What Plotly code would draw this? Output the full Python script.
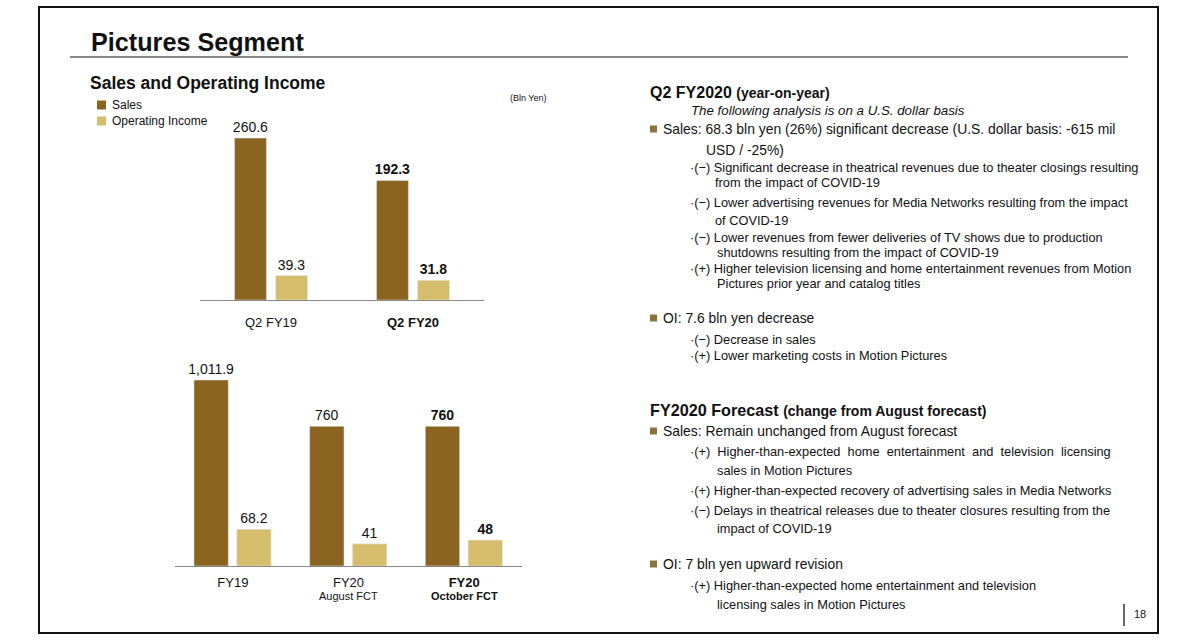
import plotly.graph_objects as go

# ---------------- data ----------------
q_categories = ["Q2 FY19", "Q2 FY20"]
q_ticktext = ["Q2 FY19", "<b>Q2 FY20</b>"]
q_sales = [260.6, 192.3]
q_oi = [39.3, 31.8]
q_bold = [False, True]

fy_categories = ["FY19", "FY20 August FCT", "FY20 October FCT"]
fy_ticktext = ["FY19", "FY20", "<b>FY20</b>"]
fy_sublabels = ["", "August FCT", "<b>October FCT</b>"]
fy_sales = [1011.9, 760, 760]
fy_oi = [68.2, 41, 48]
fy_bold = [False, False, True]

legend_names = ["Sales", "Operating Income"]

SALES_COLOR = "#8B6520"
OI_COLOR = "#D5BD6C"
FONT = "Arial, 'Liberation Sans', sans-serif"

W, H = 1200, 640


def px(x):
    return x / W


def py(y):
    return 1 - y / H


def lbl(vals, bold):
    out = []
    for v, b in zip(vals, bold):
        s = f"{v:,}"
        out.append(f"<b>{s}</b>" if b else s)
    return out


fig = go.Figure()

bar_common = dict(textposition="outside", cliponaxis=False, constraintext="none",
                  textfont=dict(family=FONT, size=14, color="#111"), hoverinfo="skip",
                  showlegend=False)

# top chart
fig.add_trace(go.Bar(x=q_categories, y=q_sales, name=legend_names[0], marker_color=SALES_COLOR,
                     offset=-0.257, width=0.225, text=lbl(q_sales, q_bold),
                     xaxis="x", yaxis="y", **bar_common))
fig.add_trace(go.Bar(x=q_categories, y=q_oi, name=legend_names[1], marker_color=OI_COLOR,
                     offset=0.032, width=0.225, text=lbl(q_oi, q_bold),
                     xaxis="x", yaxis="y", **bar_common))

# bottom chart (OI on its own scale)
fig.add_trace(go.Bar(x=fy_categories, y=fy_sales, name=legend_names[0], marker_color=SALES_COLOR,
                     offset=-0.336, width=0.297, text=lbl(fy_sales, fy_bold),
                     xaxis="x2", yaxis="y2", **bar_common))
fig.add_trace(go.Bar(x=fy_categories, y=fy_oi, name=legend_names[1], marker_color=OI_COLOR,
                     offset=0.034, width=0.297, text=lbl(fy_oi, fy_bold),
                     xaxis="x2", yaxis="y3", **bar_common))

axis_common = dict(showgrid=False, zeroline=False)

fig.update_layout(
    width=W, height=H,
    margin=dict(l=0, r=0, t=0, b=0),
    paper_bgcolor="white", plot_bgcolor="rgba(0,0,0,0)",
    font=dict(family=FONT, color="#111"),
    barmode="overlay",
    showlegend=False,
    xaxis=dict(domain=[px(200), px(484)], range=[-0.5, 1.5], type="category",
               tickmode="array", tickvals=q_categories, ticktext=q_ticktext,
               showline=True, linecolor="#888", linewidth=1, ticks="",
               tickfont=dict(size=13, family=FONT, color="#111"),
               ticklabelstandoff=10, anchor="y", **axis_common),
    yaxis=dict(domain=[py(300), py(110)], range=[0, 190 / 0.6216], visible=False,
               anchor="x", **axis_common),
    xaxis2=dict(domain=[px(175), px(522)], range=[-0.5, 2.5], type="category",
                tickmode="array", tickvals=fy_categories, ticktext=fy_ticktext,
                showline=True, linecolor="#888", linewidth=1, ticks="",
                tickfont=dict(size=13, family=FONT, color="#111"),
                ticklabelstandoff=4, anchor="y2", **axis_common),
    yaxis2=dict(domain=[py(566), py(360)], range=[0, 206 / 0.1838], visible=False,
                anchor="x2", **axis_common),
    yaxis3=dict(domain=[py(566), py(360)], range=[0, 206 / 0.54], visible=False,
                overlaying="y2", anchor="x2", **axis_common),
)

shapes = []
# outer frame
shapes.append(dict(type="rect", xref="paper", yref="paper", x0=px(39), x1=px(1158),
                   y0=py(633), y1=py(7), line=dict(color="#111", width=2)))
# title rule
shapes.append(dict(type="line", xref="paper", yref="paper", x0=px(70), x1=px(1128),
                   y0=py(57), y1=py(57), line=dict(color="#111", width=1)))
# page number separator
shapes.append(dict(type="line", xref="paper", yref="paper", x0=px(1124), x1=px(1124),
                   y0=py(604), y1=py(626), line=dict(color="#333", width=1.5)))
# bullet squares
for yb in [129, 318, 431, 564]:
    shapes.append(dict(type="rect", xref="paper", yref="paper", x0=px(650), x1=px(657),
                       y0=py(yb + 3.5), y1=py(yb - 3.5), line=dict(width=0),
                       fillcolor="#8B7340"))
# legend swatches
for yb, col in zip([105, 121], [SALES_COLOR, OI_COLOR]):
    shapes.append(dict(type="rect", xref="paper", yref="paper", x0=px(97), x1=px(106),
                       y0=py(yb + 4.5), y1=py(yb - 4.5), line=dict(width=0),
                       fillcolor=col))
fig.update_layout(shapes=shapes)

ann = []


def text(x, y, s, size=13, xanchor="left", **kw):
    ann.append(dict(x=px(x), y=py(y), xref="paper", yref="paper", text=s, showarrow=False,
                    xanchor=xanchor, yanchor="middle",
                    font=dict(size=size, family=FONT, color="#111"), **kw))


# legend text
for yb, name in zip([105, 121], legend_names):
    text(110, yb, name, size=12)

# sub labels under bottom chart categories
for cat, sub in zip(fy_categories, fy_sublabels):
    if sub:
        ann.append(dict(x=cat, y=py(596), xref="x2", yref="paper", text=sub, showarrow=False,
                        xanchor="center", yanchor="middle",
                        font=dict(size=11, family=FONT, color="#111")))

text(89, 42, "<b>Pictures Segment</b>", size=25.2)
text(88, 83, "<b>Sales and Operating Income</b>", size=17.5)
text(508, 98, "(Bln Yen)", size=9)

text(648, 92, "<b>Q2 FY2020 </b><b><span style='font-size:14px'>(year-on-year)</span></b>", size=16)
text(689, 110, "<i>The following analysis is on a U.S. dollar basis</i>", size=13.3)
text(661, 129, "Sales: 68.3 bln yen (26%) significant decrease (U.S. dollar basis: -615 mil", size=13.9)
text(704, 150, "USD / -25%)", size=13.9)
text(688, 168, "·(−) Significant decrease in theatrical revenues due to theater closings resulting", size=12.8)
text(713, 183, "from the impact of COVID-19", size=12.8)
text(688, 202, "·(−) Lower advertising revenues for Media Networks resulting from the impact", size=12.8)
text(713, 220, "of COVID-19", size=12.8)
text(688, 238, "·(−) Lower revenues from fewer deliveries of TV shows due to production", size=12.8)
text(715, 253, "shutdowns resulting from the impact of COVID-19", size=12.8)
text(688, 268, "·(+) Higher television licensing and home entertainment revenues from Motion", size=12.8)
text(715, 283, "Pictures prior year and catalog titles", size=12.8)

text(661, 318, "OI: 7.6 bln yen decrease", size=13.9)
text(688, 339, "·(−) Decrease in sales", size=12.8)
text(688, 355, "·(+) Lower marketing costs in Motion Pictures", size=12.8)

text(648, 410, "<b>FY2020 Forecast </b><b><span style='font-size:14px'>(change from August forecast)</span></b>", size=16.2)
text(661, 431, "Sales: Remain unchanged from August forecast", size=13.9)
sp = "\u00a0"
text(688, 451, f"·(+){sp*2}Higher-than-expected{sp*2}home{sp*2}entertainment{sp*2}and{sp*2}television{sp*2}licensing", size=12.8)
text(715, 470, "sales in Motion Pictures", size=12.8)
text(688, 490, "·(+) Higher-than-expected recovery of advertising sales in Media Networks", size=12.8)
text(688, 510, "·(−) Delays in theatrical releases due to theater closures resulting from the", size=12.8)
text(715, 528, "impact of COVID-19", size=12.8)

text(661, 564, "OI: 7 bln yen upward revision", size=13.9)
text(688, 585, "·(+) Higher-than-expected home entertainment and television", size=12.8)
text(715, 604, "licensing sales in Motion Pictures", size=12.8)

text(1132, 614, "18", size=11)

fig.update_layout(annotations=ann)

fig.write_html("out.html", config={"displayModeBar": False},
               post_script="document.body.style.margin='0';document.body.style.overflow='hidden';")
